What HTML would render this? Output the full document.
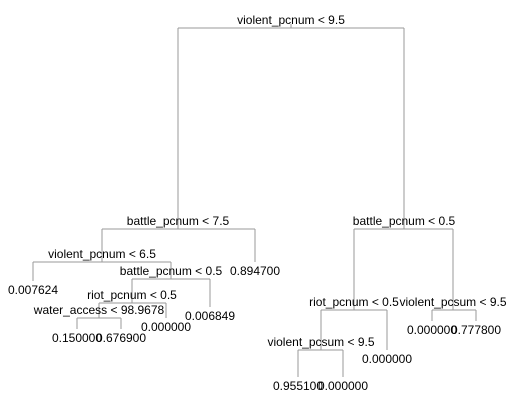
<!DOCTYPE html>
<html><head><meta charset="utf-8"><style>
html,body{margin:0;padding:0;background:#fff;}
svg{display:block;font-family:"Liberation Sans",Arial,sans-serif;}
text{font-size:12px;fill:#000;}
</style></head><body>
<svg id="tree" width="532" height="402" viewBox="0 0 532 402"></svg>
<script>
// Splits: label, x, y (split line level), left child x, right child x, child bottom y (left, right)
const splitLabels = ["violent_pcnum < 9.5","battle_pcnum < 7.5","violent_pcnum < 6.5","battle_pcnum < 0.5","riot_pcnum < 0.5","water_access < 98.9678","battle_pcnum < 0.5","riot_pcnum < 0.5","violent_pcsum < 9.5","violent_pcsum < 9.5"];
const leafLabels = ["0.894700","0.007624","0.006849","0.000000","0.150000","0.676900","0.000000","0.000000","0.777800","0.955100","0.000000"];
const svg = document.getElementById('tree');
const NS = 'http://www.w3.org/2000/svg';
function line(x1,y1,x2,y2,name){
  const l=document.createElementNS(NS,'line');
  l.setAttribute('x1',x1);l.setAttribute('y1',y1);l.setAttribute('x2',x2);l.setAttribute('y2',y2);
  l.setAttribute('stroke','#9a9a9a');l.setAttribute('stroke-width','1');
  
  
  svg.appendChild(l);
}
function txt(x,y,s,name){
  const t=document.createElementNS(NS,'text');
  t.setAttribute('x',x);t.setAttribute('y',y);t.setAttribute('text-anchor','middle');
  t.textContent=s;
  
  
  svg.appendChild(t);
}
// split geometry: [x, y, lx, rx, lBottom, rBottom]
const geo = [
 [291,28,178,404,229,229],
 [178,229,102,255,262,262],
 [102,262,33,171,281,279],
 [171,279,132,210,303,307],
 [132,303,99,166,318,318],
 [99,318,77,121,329,329],
 [404,229,354,453,310,310],
 [354,310,321,387,350,350],
 [453,310,432,476,321,321],
 [321,350,298,343,377,377]
];
line(291,24,291,28,'root-stem');
geo.forEach((g,i)=>{
  line(g[2],g[1],g[4]===undefined?g[1]:g[3],g[1],'split-line-'+i);
  line(g[2],g[1],g[2],g[4],'branch-left-'+i);
  line(g[3],g[1],g[3],g[5],'branch-right-'+i);
  txt(g[0],g[1]-4,splitLabels[i],'split-label-'+i);
});
// leaves: [x, bottomY]
const leafPos = [[255,262],[33,281],[210,307],[166,318],[77,329],[121,329],[387,350],[432,321],[476,321],[298,377],[343,377]];
leafPos.forEach((p,i)=>{ txt(p[0],p[1]+13,leafLabels[i],'leaf-value-'+i); });
</script>
</body></html>
